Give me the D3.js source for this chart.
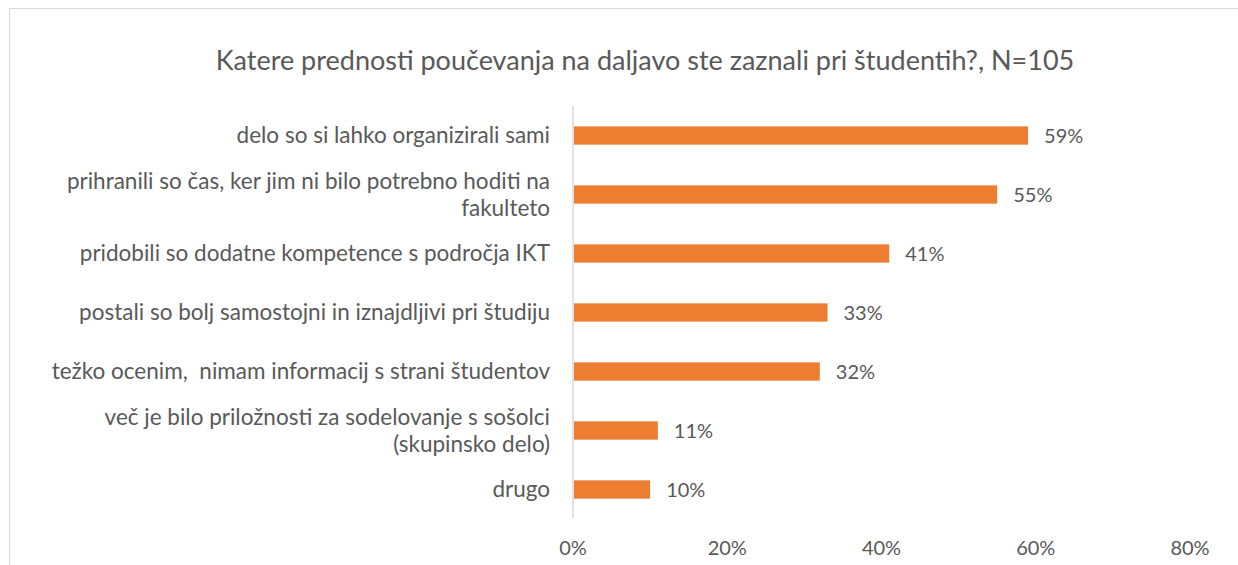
<!DOCTYPE html>
<html>
<head>
<meta charset="utf-8">
<script src="https://cdn.jsdelivr.net/npm/d3@7"></script>
<style>
  body { margin: 0; background: #fff; }
  text { font-family: Lato, "Open Sans", sans-serif; fill: #595959; white-space: pre; }
</style>
</head>
<body>
<div id="chart"></div>
<script>
var categories = [
    ["delo so si lahko organizirali sami"],
    ["prihranili so čas, ker jim ni bilo potrebno hoditi na", "fakulteto"],
    ["pridobili so dodatne kompetence s področja IKT"],
    ["postali so bolj samostojni in iznajdljivi pri študiju"],
    ["težko ocenim,  nimam informacij s strani študentov"],
    ["več je bilo priložnosti za sodelovanje s sošolci", "(skupinsko delo)"],
    ["drugo"]
];
var values = [59, 55, 41, 33, 32, 11, 10];
var ticks = [0, 20, 40, 60, 80];
var title = "Katere prednosti poučevanja na daljavo ste zaznali pri študentih?, N=105";

var width = 1238,
    height = 565;

var svg = d3.select("#chart").append("svg")
    .attr("width", width)
    .attr("height", height);

// chart frame
svg.append("rect")
    .attr("x", 9.5)
    .attr("y", 8.5)
    .attr("width", 1240)
    .attr("height", 600)
    .style("fill", "none")
    .style("stroke", "#d9d9d9")
    .style("stroke-width", "1px");

svg.append("text")
    .attr("x", 645)
    .attr("y", 70)
    .attr("text-anchor", "middle")
    .style("font-size", "27px")
    .text(title);

var x = d3.scaleLinear()
    .domain([0, 80])
    .range([573, 1190]);

var y = d3.scaleBand()
    .domain(d3.range(values.length))
    .range([106, 519])
    .paddingInner(0.69)
    .paddingOuter(0.345);

svg.append("line")
    .attr("x1", x(0))
    .attr("x2", x(0))
    .attr("y1", 106)
    .attr("y2", 518)
    .style("stroke", "#d9d9d9")
    .style("stroke-width", "1.5px");

svg.selectAll(".bar")
    .data(values)
    .enter().append("rect")
    .attr("class", "bar")
    .attr("x", x(0) + 1)
    .attr("y", function(d, i) { return y(i); })
    .attr("width", function(d) { return x(d) - x(0) - 1; })
    .attr("height", y.bandwidth())
    .style("fill", "#ed7d31");

svg.selectAll(".value")
    .data(values)
    .enter().append("text")
    .attr("class", "value")
    .attr("x", function(d) { return x(d) + 16; })
    .attr("y", function(d, i) { return y(i) + y.bandwidth() / 2; })
    .attr("dy", ".35em")
    .style("font-size", "20px")
    .text(function(d) { return d + "%"; });

var labels = svg.selectAll(".cat")
    .data(categories)
    .enter().append("text")
    .attr("class", "cat")
    .attr("text-anchor", "end")
    .style("font-size", "22.5px")
    .attr("transform", function(d, i) {
        return "translate(550," + (y(i) + y.bandwidth() / 2) + ")";
    });

labels.selectAll("tspan")
    .data(function(d) { return d; })
    .enter().append("tspan")
    .attr("x", 0)
    .attr("y", function(d, i, n) { return (i - (n.length - 1) / 2) * 27; })
    .attr("dy", ".35em")
    .text(function(d) { return d; });

svg.selectAll(".tick-label")
    .data(ticks)
    .enter().append("text")
    .attr("class", "tick-label")
    .attr("x", function(d) { return x(d); })
    .attr("y", 555)
    .attr("text-anchor", "middle")
    .style("font-size", "20px")
    .text(function(d) { return d + "%"; });
</script>
</body>
</html>
